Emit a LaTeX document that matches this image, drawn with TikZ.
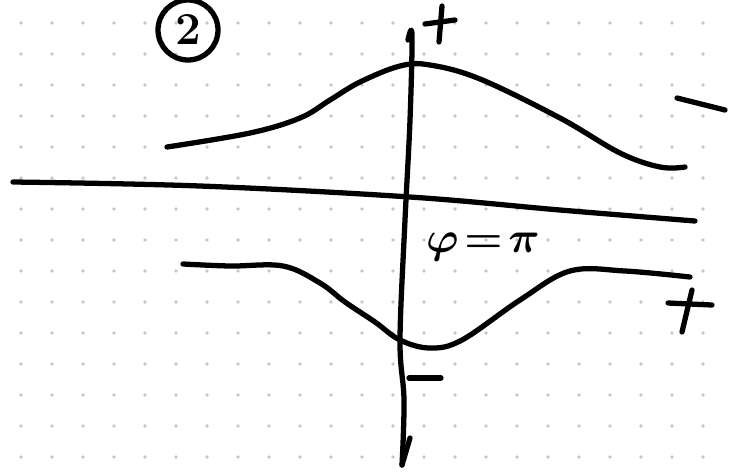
\documentclass[tikz,border=0pt]{standalone}
\usepackage{amsmath}
\usepackage{tikz}
\usetikzlibrary{positioning}

\begin{document}
\begin{tikzpicture}[
        x=0.02cm, y=-0.02cm,
        pen/.style={line width=3pt, line cap=round, line join=round},
        griddot/.style={fill=black!22},
        every node/.style={inner sep=0pt}
    ]

    \useasboundingbox (0,0) rectangle (733,471);
    \fill[white] (0,0) rectangle (733,471);

    % dotted paper
    \foreach \gx in {21,52,...,733}
        \foreach \gy in {23,54,...,471}
            \fill[griddot] (\gx,\gy) circle (1.8);

    % axes
    \draw[pen] plot[smooth, tension=0.6] coordinates {(13,182) (200,186) (410,197) (560,210) (695,221)};
    \draw[pen] plot[smooth, tension=0.6] coordinates {(408,40) (412,35) (410,120) (405,220) (400,340) (404,400) (402,465)};
    \draw[pen] (402,465) -- (410,438);

    % upper curve
    \draw[pen] plot[smooth, tension=0.6] coordinates {(167,147) (250,133) (300,118) (330,100) (360,82) (400,66) (430,65) (480,79) (560,118) (620,153) (660,167) (685,167)};

    % lower curve
    \draw[pen] plot[smooth, tension=0.6] coordinates {(183,264) (230,266) (283,266) (320,283) (345,302) (375,322) (400,340) (430,348) (462,340) (520,300) (570,271) (625,271) (690,277)};

    % signs
    \draw[pen] (425,24) -- (455,20);
    \draw[pen] (442,6) -- (439,42);
    \draw[pen] (677,98) -- (725,110);
    \draw[pen] (668,303) -- (712,305);
    \draw[pen] (692,290) -- (682,332);
    \draw[pen] (409,378) -- (441,378);

    % labels
    \node[draw, circle, line width=3pt, minimum size=1.2cm, font=\fontsize{26}{26}\selectfont\bfseries] (num) at (188,30) {2};
    \node[font=\fontsize{32}{32}\selectfont\boldmath] (phase) at (483,247) {$\varphi\!=\!\pi$};

\end{tikzpicture}
\end{document}
